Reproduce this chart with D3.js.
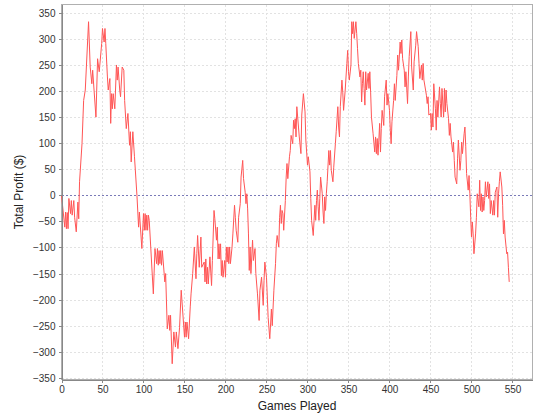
<!DOCTYPE html>
<html><head><meta charset="utf-8">
<script src="https://cdn.jsdelivr.net/npm/d3@7/dist/d3.min.js"></script>
<style>
html,body{margin:0;padding:0;background:#fff;}
svg{display:block;}
.tick text{font-family:"Liberation Sans",Arial,sans-serif;font-size:10px;fill:#333;}
</style></head>
<body><svg id="c" width="540" height="420"></svg>
<script>
const games = [0,4,5,6,7,8,9,11,12,13,15,16,18,20,21,22,25,27,29,33,35,37,38,42,44,46,49,50,52,53,54,56,57,59,60,61,62,63,65,67,68,69,71,72,74,76,77,79,81,83,84,85,87,89,92,94,95,98,100,101,102,103,104,105,106,107,112,114,116,117,118,119,120,121,122,123,126,127,129,131,132,133,135,137,139,140,142,144,146,150,151,152,153,155,157,158,160,162,164,165,166,168,170,171,174,175,176,177,178,179,181,183,184,186,187,189,190,191,192,193,194,195,196,197,199,200,201,202,203,204,205,206,208,209,211,212,213,215,216,218,219,221,222,224,225,226,227,228,229,230,231,233,234,236,237,239,241,242,244,246,247,248,250,252,254,256,257,259,261,262,263,265,266,267,268,269,270,271,273,274,275,276,278,279,280,282,283,284,285,286,287,289,290,292,293,295,297,298,300,301,303,304,305,307,308,309,310,311,312,313,314,315,316,318,319,320,321,322,323,324,326,327,328,329,331,332,334,335,337,338,339,340,342,343,344,346,348,349,350,351,353,354,355,356,357,359,360,361,362,364,365,366,367,368,369,370,371,372,374,375,376,377,378,380,382,383,384,385,386,387,388,389,390,391,393,394,396,397,398,400,401,402,403,405,406,407,409,410,411,413,414,415,416,418,419,420,422,423,424,426,427,429,430,432,433,435,436,437,439,440,441,442,444,445,446,447,448,450,451,452,453,454,456,457,458,459,461,462,463,464,466,467,468,469,470,472,473,474,475,477,478,479,480,482,483,484,486,487,488,489,491,492,493,494,496,497,498,499,500,501,502,503,505,506,507,509,510,511,512,513,514,515,516,517,518,520,521,522,523,524,526,527,528,529,531,532,533,534,535,537,538,539,540,541,543,544,545,546];
const profit = [0,-61,-32,-64,-33,-64,-6,-35,-10,-38,-10,-42,-70,-13,-45,26,99,182,202,333,246,214,240,150,262,237,291,320,294,320,291,227,202,224,138,195,166,195,166,250,221,246,202,189,246,240,182,128,157,96,122,64,122,74,0,-61,-32,-102,-35,-67,-35,-67,-38,-67,-38,-48,-189,-102,-131,-102,-134,-106,-131,-106,-134,-106,-166,-150,-256,-230,-259,-230,-323,-262,-291,-262,-294,-253,-182,-272,-243,-272,-243,-275,-214,-189,-150,-99,-160,-112,-77,-138,-80,-138,-128,-166,-122,-170,-138,-170,-118,-173,-125,-29,-45,-86,-61,-122,-93,-122,-93,-154,-125,-157,-125,-157,-99,-128,-99,-131,-99,-131,-99,-74,-19,-42,-67,-90,-42,-16,35,67,32,6,-16,3,-26,-74,-144,-99,-150,-86,-125,-102,-150,-189,-240,-182,-157,-211,-163,-128,-157,-234,-275,-218,-250,-182,-131,-93,-77,-99,-42,-19,-54,-29,-35,-67,-10,35,61,32,74,86,115,99,144,128,147,112,170,131,112,80,154,195,160,106,58,74,45,-6,-48,-77,-48,-19,-48,-10,10,-22,-48,-6,35,3,-32,-54,-3,-29,3,26,86,58,86,48,26,54,99,122,170,131,112,170,221,198,163,202,253,278,237,221,250,333,310,333,301,333,310,282,253,227,240,179,214,237,205,173,237,202,234,205,237,198,150,118,83,112,80,109,77,106,138,83,128,163,134,189,221,173,195,163,125,99,141,182,214,182,230,269,240,294,272,298,262,240,208,237,176,227,266,314,246,202,256,288,314,285,253,224,250,221,253,221,202,192,176,189,154,157,125,157,131,214,166,125,182,150,208,176,150,205,150,205,160,202,176,147,115,138,112,83,102,67,35,22,70,106,48,67,102,80,118,131,93,42,10,38,3,-42,-80,-51,-74,-112,-74,-42,3,-22,29,-29,3,-32,-3,-29,-10,26,-3,26,-6,22,-35,-10,-38,-10,-38,6,16,-42,3,26,45,16,-19,-74,-48,-80,-112,-109,-138,-166];
const xTicks = [0,50,100,150,200,250,300,350,400,450,500,550];
const yTicks = [-350,-300,-250,-200,-150,-100,-50,0,50,100,150,200,250,300,350];
const xLabel = "Games Played";
const yLabel = "Total Profit ($)";

const svg = d3.select("#c");
const L = 61.5, R = 532.5, T = 4.5, B = 379.5;
const x = d3.scaleLinear().domain([0, 574.4]).range([L, R]);
const y = d3.scaleLinear().domain([-353.2, 366]).range([B, T]);

svg.append("rect").attr("x",0).attr("y",0).attr("width",540).attr("height",420).attr("fill","#fff");

const grid = svg.append("g").attr("shape-rendering","crispEdges");
grid.selectAll(".gx").data(xTicks).join("line")
  .attr("x1", d=>Math.round(x(d))+0.5).attr("x2", d=>Math.round(x(d))+0.5)
  .attr("y1", T).attr("y2", B)
  .attr("stroke","#e2e2e2").attr("stroke-dasharray","2,2");
grid.selectAll(".gy").data(yTicks).join("line")
  .attr("y1", d=>Math.round(y(d))+0.5).attr("y2", d=>Math.round(y(d))+0.5)
  .attr("x1", L).attr("x2", R)
  .attr("stroke","#e2e2e2").attr("stroke-dasharray","2,2");

// plot outline
svg.append("rect").attr("x",L).attr("y",T).attr("width",R-L).attr("height",B-T)
  .attr("fill","none").attr("stroke","#b0b0b0").attr("shape-rendering","crispEdges");

// zero marker
svg.append("line").attr("x1",L).attr("x2",R)
  .attr("y1",Math.round(y(0))+0.5).attr("y2",Math.round(y(0))+0.5)
  .attr("stroke","#7a7ab8").attr("stroke-dasharray","2,2").attr("shape-rendering","crispEdges");

// data line
const pts = games.map((g,i)=>[g, profit[i]]);
svg.append("path").datum(pts)
  .attr("fill","none").attr("stroke","#ff5555").attr("stroke-width",1)
  .attr("stroke-linejoin","round")
  .attr("d", d3.line().x(d=>x(d[0])).y(d=>y(d[1])));

// axes
const ax = svg.append("g").attr("transform",`translate(0,${B})`)
  .call(d3.axisBottom(x).tickValues(xTicks).tickSize(3).tickSizeOuter(0).tickPadding(3).tickFormat(d3.format("d")));
const ay = svg.append("g").attr("transform",`translate(${L},0)`)
  .call(d3.axisLeft(y).tickValues(yTicks).tickSize(3).tickSizeOuter(0).tickPadding(3).tickFormat(d3.format("d")));
[ax, ay].forEach(a=>{
  a.select(".domain").attr("stroke","#888").attr("shape-rendering","crispEdges");
  a.selectAll(".tick line").attr("stroke","#888").attr("shape-rendering","crispEdges");
});
ax.selectAll(".tick text").attr("dy","0.71em");
ay.selectAll(".tick text").attr("dy","0.35em");

svg.append("text").attr("x",(L+R)/2).attr("y",410).attr("text-anchor","middle")
  .attr("font-family","Liberation Sans, Arial, sans-serif").attr("font-size",12).attr("fill","#222")
  .text(xLabel);
svg.append("text").attr("transform",`translate(23,${(T+B)/2}) rotate(-90)`).attr("text-anchor","middle")
  .attr("font-family","Liberation Sans, Arial, sans-serif").attr("font-size",12).attr("fill","#222")
  .text(yLabel);
</script></body></html>
